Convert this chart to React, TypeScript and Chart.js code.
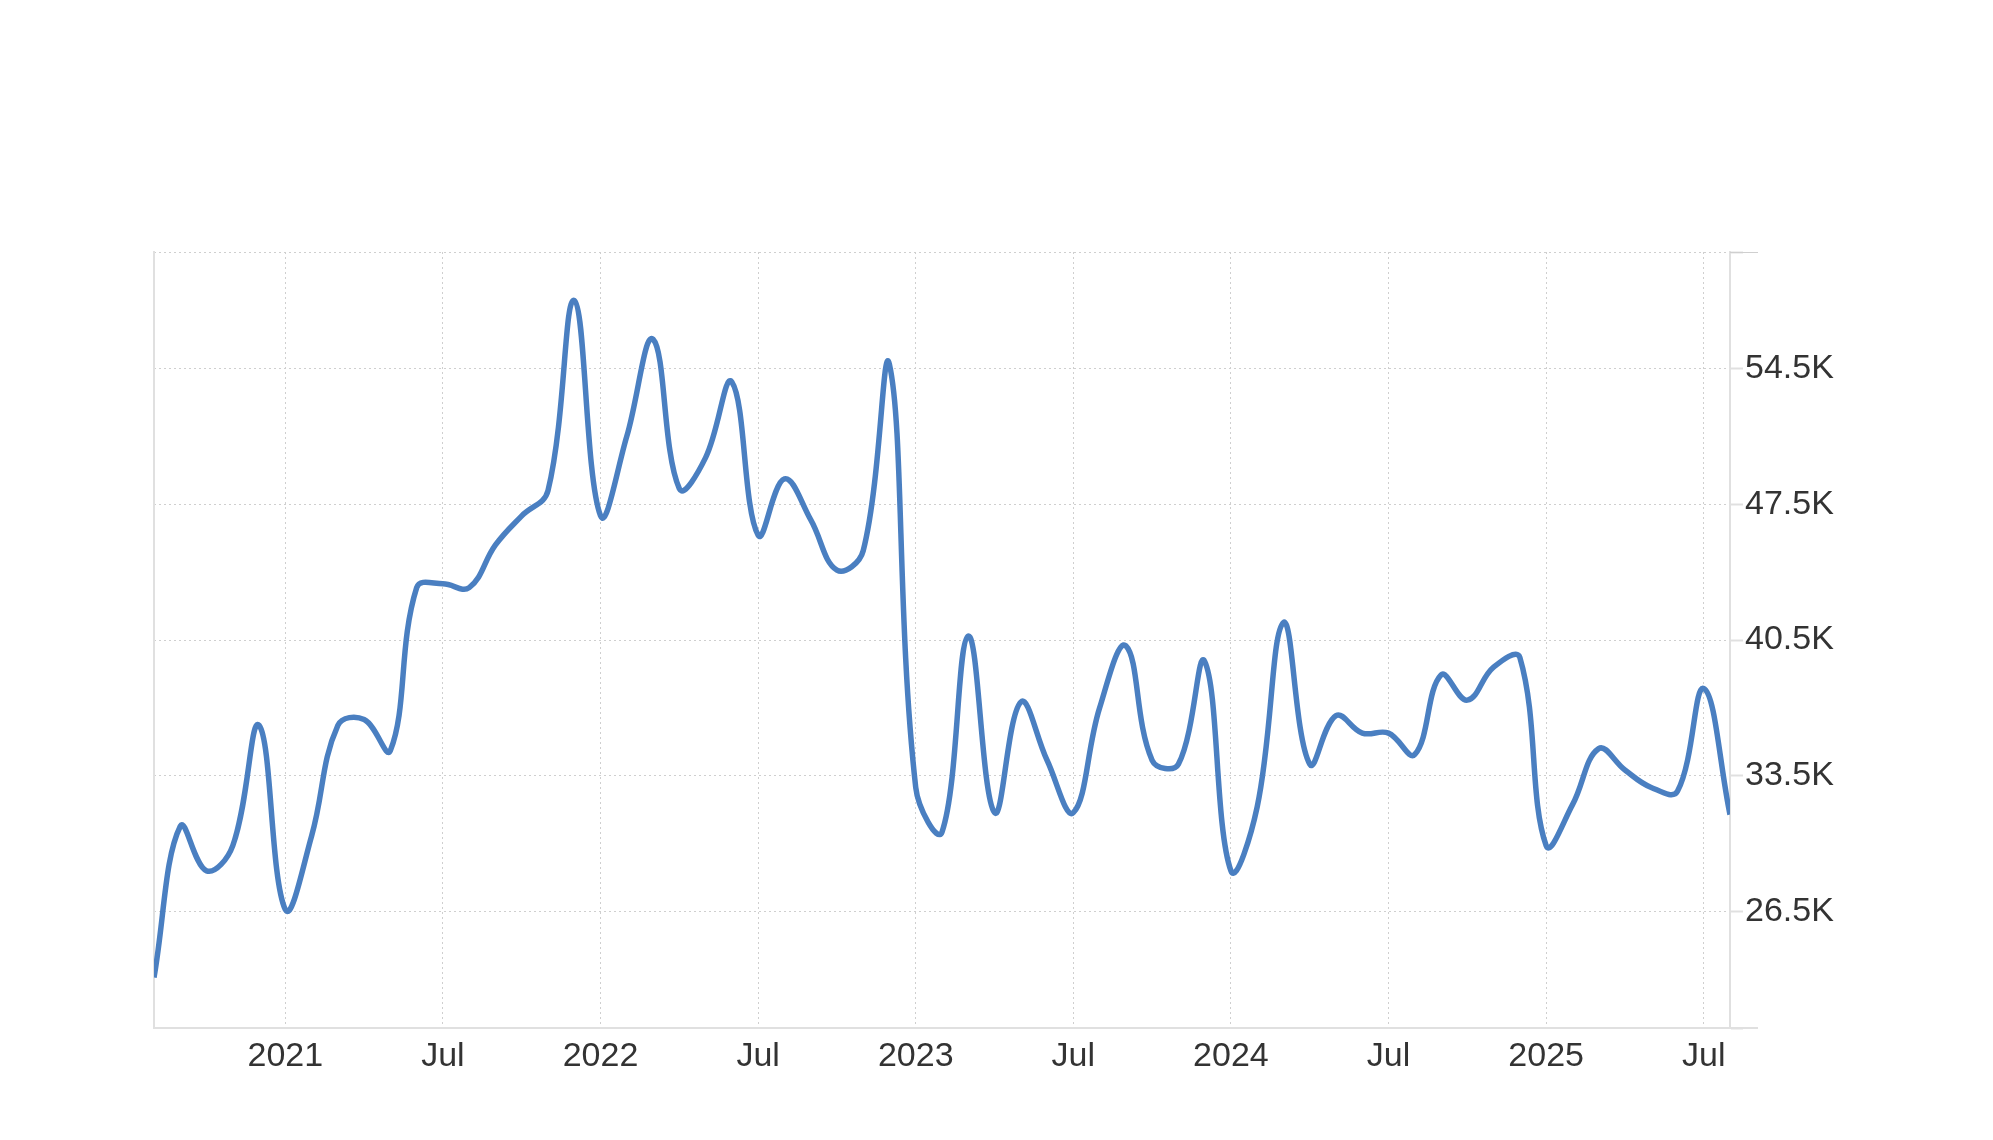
import React, { useEffect, useRef } from "react";
import { Chart, registerables } from "chart.js";

Chart.register(...registerables);

// Monthly values, Aug 2020 .. Aug 2025
const values: number[] = [
  23100, 30900, 28600, 29900, 36100, 26600, 30400, 36100, 36400, 34800,
  43200, 43400, 43200, 45400, 46900, 48200, 58000, 46900, 51000, 56000,
  48300, 49900, 53800, 45900, 48800, 46700, 44100, 45100, 54700, 32900,
  30600, 40700, 31600, 37300, 34300, 31600, 37000, 40200, 34300, 34100,
  39400, 28600, 31900, 41400, 34100, 36600, 35700, 35700, 34600, 38700,
  37400, 39100, 39600, 29900, 32000, 34900, 33800, 32900, 32700, 38000,
  31500,
];

// month index (0 = Aug 2020) where each x tick sits
const xTickPositions: number[] = [5, 11, 17, 23, 29, 35, 41, 47, 53, 59];
const xTickLabels: string[] = ["2021", "Jul", "2022", "Jul", "2023", "Jul", "2024", "Jul", "2025", "Jul"];

const yTickValues: number[] = [26500, 33500, 40500, 47500, 54500];
const yMin = 20500;
const yMax = 60500;

const FONT = { family: "'Liberation Sans', Arial, Helvetica, sans-serif", size: 34 };
const GRID_COLOR = "#cfcfcf";
const AXIS_COLOR = "#e0e0e0";
const TEXT_COLOR = "#333333";
const LINE_COLOR = "#4a7fc1";

const edgeLines = {
  id: "edgeLines",
  afterDraw(chart: any) {
    const { ctx, chartArea } = chart;
    ctx.save();
    ctx.strokeStyle = AXIS_COLOR;
    ctx.lineWidth = 2;
    ctx.setLineDash([]);
    ctx.beginPath();
    ctx.moveTo(chartArea.right, chartArea.bottom);
    ctx.lineTo(chartArea.right + 28, chartArea.bottom);
    ctx.stroke();
    ctx.strokeStyle = GRID_COLOR;
    ctx.lineWidth = 1;
    ctx.beginPath();
    ctx.moveTo(chartArea.right, chartArea.top + 0.5);
    ctx.lineTo(chartArea.right + 28, chartArea.top + 0.5);
    ctx.stroke();
    ctx.restore();
  },
};

export default function App() {
  const ref = useRef<HTMLCanvasElement | null>(null);

  useEffect(() => {
    if (!ref.current) return;
    const chart = new Chart(ref.current, {
      type: "line",
      data: {
        datasets: [
          {
            data: values.map((v, i) => ({ x: i, y: v })),
            borderColor: LINE_COLOR,
            borderWidth: 5.5,
            pointRadius: 0,
            pointHoverRadius: 0,
            fill: false,
            tension: 0.4,
          },
        ],
      },
      options: {
        animation: false,
        responsive: false,
        maintainAspectRatio: false,
        layout: { padding: { left: 154, top: 252, right: 0, bottom: 0 } },
        plugins: { legend: { display: false }, tooltip: { enabled: false } },
        scales: {
          x: {
            type: "linear",
            position: "bottom",
            min: 0,
            max: values.length - 1,
            afterBuildTicks: (scale: any) => {
              scale.ticks = xTickPositions.map((v) => ({ value: v }));
            },
            afterFit: (scale: any) => {
              scale.height = 112;
            },
            ticks: {
              autoSkip: false,
              maxRotation: 0,
              padding: 8,
              color: TEXT_COLOR,
              font: FONT,
              callback: (_v: any, i: number) => xTickLabels[i],
            },
            grid: { color: GRID_COLOR, lineWidth: 1, drawTicks: false },
            border: { display: true, color: AXIS_COLOR, width: 2, dash: [2, 3] },
          },
          yLeft: {
            type: "linear",
            position: "left",
            min: yMin,
            max: yMax,
            afterFit: (scale: any) => {
              scale.width = 0;
            },
            ticks: { display: false },
            grid: { display: false, drawTicks: false },
            border: { display: true, color: AXIS_COLOR, width: 2 },
          },
          y: {
            type: "linear",
            position: "right",
            min: yMin,
            max: yMax,
            afterBuildTicks: (scale: any) => {
              scale.ticks = [yMin, ...yTickValues, yMax].map((v) => ({ value: v }));
            },
            afterFit: (scale: any) => {
              scale.width = 263;
            },
            ticks: {
              padding: 2,
              color: TEXT_COLOR,
              font: FONT,
              callback: (v: any) =>
                yTickValues.includes(Number(v)) ? (Number(v) / 1000).toFixed(1) + "K" : "",
            },
            grid: {
              color: GRID_COLOR,
              lineWidth: 1,
              drawTicks: true,
              tickLength: 13,
              tickColor: AXIS_COLOR,
              tickBorderDash: [],
              tickWidth: 2,
            },
            border: { display: true, color: AXIS_COLOR, width: 2, dash: [2, 3] },
          },
        },
      },
      plugins: [edgeLines],
    });
    return () => chart.destroy();
  }, []);

  return (
    <div style={{ position: "fixed", left: 0, top: 0, width: 1993, height: 1140, background: "#ffffff" }}>
      <canvas ref={ref} width={1993} height={1140} style={{ display: "block" }} />
    </div>
  );
}
